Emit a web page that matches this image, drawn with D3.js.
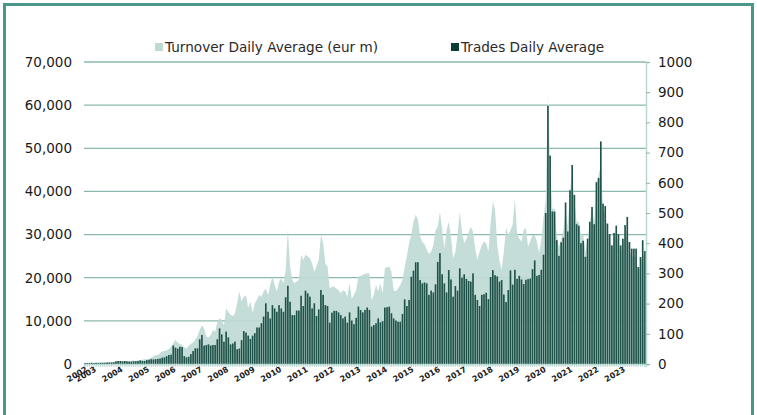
<!DOCTYPE html>
<html lang="en">
<head>
  <meta charset="UTF-8">
  <title>Turnover and trades</title>
  <script src="https://d3js.org/d3.v7.min.js"></script>
  <style>
    body { margin: 0; background: #fff; }
    text { font-family: "DejaVu Sans", Verdana, sans-serif; }
  </style>
</head>
<body>
  <script>
    // monthly data, Sep 2002 .. Nov 2023
    var turnover = [
      300, 300, 300, 300,
      300, 300, 350, 350, 350, 400, 400, 400, 450, 450, 500, 700,
      700, 700, 650, 700, 700, 750, 800, 780, 800, 850, 1000, 1100,
      1100, 1200, 1500, 1800, 2000, 2100, 2500, 2900, 3000, 3200, 3500, 4000,
      4800, 5600, 4900, 4700, 4400, 3900, 3600, 4200, 4700, 5000, 5700, 6500,
      7900, 9000, 8300, 6300, 6200, 6700, 7900, 7500, 9800, 10600, 10200, 9000,
      12900, 12100, 11400, 11100, 11700, 14100, 16800, 14500, 15600, 15900, 13000, 14500,
      11800, 14000, 15000, 16000, 15600, 16800, 17500, 16000, 18300, 20300, 18300, 16800,
      19100, 19900, 18700, 21800, 31100, 22600, 19500, 18700, 19100, 19500, 25300, 24100,
      25300, 24900, 24500, 23300, 21400, 22600, 24100, 29900, 28000, 23300, 22600, 17500,
      17900, 17900, 17500, 17100, 16400, 17100, 16800, 15600, 18700, 15200, 16000, 17100,
      20300, 20400, 20700, 20900, 21000, 21000, 14800, 16000, 18300, 16800, 18700, 16400,
      22200, 22400, 22600, 21400, 17100, 16800, 17500, 18300, 19500, 22500, 25000, 28000,
      30000, 33000, 34600, 33500, 29500, 28300, 27800, 26500, 25500, 26000, 27500, 31000,
      31800, 35300, 31300, 26800, 31000, 33000, 29500, 24500, 26000, 30000, 35300, 30700,
      28000, 29000, 30500, 31800, 30700, 26800, 24100, 26100, 27500, 28400, 28000, 26100,
      32600, 37600, 35700, 27600, 24000, 21800, 26100, 31500, 30000, 31000, 32300, 38400,
      30300, 29100, 28400, 31100, 31500, 27200, 28500, 29900, 29900, 28400, 25700, 28900,
      34000, 38000, 64000, 46000, 36000, 36000, 30000, 27000, 29000, 31000, 36000, 32000,
      40000, 44000, 38000, 33000, 33000, 30000, 30000, 26000, 29000, 33000, 36000, 33000,
      42000, 44000, 46000, 36000, 35000, 31000, 29000, 26000, 29000, 30000, 28000, 26000,
      27000, 30000, 31000, 26000, 25000, 25000, 25000, 21000, 23000, 26000, 24000
    ];

    var trades = [
      3, 3, 3, 4,
      3, 4, 3, 4, 4, 4, 5, 5, 5, 6, 9, 10,
      10, 9, 10, 9, 8, 8, 9, 9, 10, 12, 10, 10,
      13, 14, 16, 15, 16, 17, 18, 21, 22, 26, 30, 31,
      61, 54, 51, 57, 56, 26, 22, 24, 33, 43, 52, 52,
      82, 96, 61, 63, 65, 61, 63, 63, 82, 118, 98, 74,
      107, 88, 65, 68, 74, 49, 51, 79, 109, 104, 94, 83,
      94, 102, 121, 121, 135, 157, 201, 173, 151, 195, 184, 173,
      195, 184, 173, 221, 259, 206, 162, 162, 177, 177, 226, 192,
      243, 234, 223, 184, 201, 159, 181, 245, 229, 195, 192, 137,
      170, 176, 176, 171, 162, 151, 157, 137, 171, 144, 132, 153,
      190, 179, 171, 179, 187, 179, 124, 129, 135, 151, 138, 142,
      187, 188, 190, 168, 151, 144, 140, 140, 166, 214, 192, 212,
      289, 309, 337, 337, 278, 267, 270, 267, 229, 243, 237, 264,
      338, 367, 297, 267, 237, 311, 280, 223, 258, 243, 317, 286,
      297, 282, 275, 273, 300, 229, 212, 192, 229, 231, 236, 215,
      288, 311, 294, 290, 273, 278, 230, 205, 245, 310, 263, 312,
      282, 292, 280, 265, 279, 281, 283, 314, 343, 292, 295, 312,
      362, 500, 855, 690, 505, 505, 410, 358, 403, 418, 535, 439,
      575, 659, 560, 463, 458, 400, 408, 355, 415, 471, 520, 463,
      602, 616, 737, 531, 523, 465, 430, 393, 434, 458, 430, 393,
      415, 460, 487, 404, 382, 382, 382, 321, 354, 410, 374
    ];

    var months = d3.timeMonth.range(new Date(2002, 8, 1), new Date(2023, 11, 1));
    var leftTicks = [0, 10000, 20000, 30000, 40000, 50000, 60000, 70000];
    var rightTicks = [0, 100, 200, 300, 400, 500, 600, 700, 800, 900, 1000];
    var seriesNames = ["Turnover Daily Average (eur m)", "Trades Daily Average"];

    var width = 757, height = 415;
    var plotLeft = 84, plotRight = 646, plotTop = 62, plotBottom = 364;

    var svg = d3.select("body").append("svg")
      .attr("width", width)
      .attr("height", height);

    // outer frame
    svg.append("path")
      .attr("d", "M4.5," + (height + 5) + "V4.5H752.5V" + (height + 5))
      .attr("fill", "none")
      .attr("stroke", "#4a968a")
      .attr("stroke-width", 3);

    var x = d3.scaleBand()
      .domain(d3.range(months.length))
      .range([plotLeft, plotRight])
      .paddingInner(0.25)
      .paddingOuter(0.12);

    var yL = d3.scaleLinear().domain([0, 70000]).range([plotBottom, plotTop]);
    var yR = d3.scaleLinear().domain([0, 1000]).range([plotBottom, plotTop]);

    // gridlines
    svg.append("g")
      .selectAll("line")
      .data(leftTicks.slice(1))
      .join("line")
      .attr("x1", plotLeft)
      .attr("x2", plotRight)
      .attr("y1", d => yL(d))
      .attr("y2", d => yL(d))
      .attr("stroke", "#8cb9af")
      .attr("stroke-width", 1.3);

    // turnover area with fading top
    var grad = svg.append("defs").append("linearGradient")
      .attr("id", "fade")
      .attr("gradientUnits", "userSpaceOnUse")
      .attr("x1", 0).attr("x2", 0)
      .attr("y1", yL(0)).attr("y2", yL(66000));
    grad.append("stop").attr("offset", "0").attr("stop-color", "#bfdad5");
    grad.append("stop").attr("offset", "0.78").attr("stop-color", "#bfdad5");
    grad.append("stop").attr("offset", "1").attr("stop-color", "#ffffff");

    var cx = i => x(i) + x.bandwidth() / 2;
    var area = d3.area()
      .x((d, i) => cx(i))
      .y0(yL(0))
      .y1(d => yL(d));

    svg.append("path")
      .datum(turnover)
      .attr("d", area)
      .attr("fill", "url(#fade)")
      .attr("fill-opacity", 0.92);

    // trades bars
    svg.append("g")
      .selectAll("rect")
      .data(trades)
      .join("rect")
      .attr("x", (d, i) => x(i))
      .attr("width", x.bandwidth())
      .attr("y", d => yR(d))
      .attr("height", d => yR(0) - yR(d))
      .attr("fill", "#1f5349");

    // category axis (light line with small ticks)
    var xAxis = svg.append("g")
      .attr("transform", "translate(0," + plotBottom + ")")
      .call(d3.axisBottom(x).tickSize(3).tickFormat(""));
    xAxis.select(".domain").attr("stroke", "#b9d8d2").attr("stroke-width", 1.5);
    xAxis.selectAll(".tick line").attr("stroke", "#b9d8d2");

    // year labels at first month of each year
    var yearStarts = months.map((m, i) => ({ m: m, i: i }))
      .filter(d => d.i === 0 || d.m.getMonth() === 0);
    svg.append("g")
      .selectAll("text")
      .data(yearStarts)
      .join("text")
      .attr("transform", d => "translate(" + (cx(d.i) + 3) + "," + 371 + ") rotate(-30)")
      .attr("text-anchor", "end")
      .attr("font-size", 8)
      .attr("font-weight", "bold")
      .attr("fill", "#222")
      .text(d => d.m.getFullYear());

    // left axis labels
    var axL = svg.append("g")
      .attr("transform", "translate(" + plotLeft + ",0)")
      .call(d3.axisLeft(yL).tickValues(leftTicks).tickSize(0).tickPadding(12)
        .tickFormat(d3.format(",")));
    axL.select(".domain").remove();
    axL.selectAll("text")
      .attr("font-size", 13.5)
      .attr("fill", "#1a1a1a")
      .style("font-family", "'DejaVu Sans', sans-serif");

    // right axis
    var axR = svg.append("g")
      .attr("transform", "translate(" + plotRight + ",0)")
      .call(d3.axisRight(yR).tickValues(rightTicks).tickSize(4).tickPadding(8)
        .tickFormat(d3.format("d")));
    axR.select(".domain").attr("stroke", "#b9d8d2").attr("stroke-width", 1.5);
    axR.selectAll(".tick line").attr("stroke", "#8cb9af");
    axR.selectAll("text")
      .attr("font-size", 13.5)
      .attr("fill", "#1a1a1a")
      .style("font-family", "'DejaVu Sans', sans-serif");

    // legend
    var legend = svg.append("g").attr("font-size", 13.6);
    var legendX = [155, 451];
    var legendColors = ["#bfdad5", "#0d3d35"];
    seriesNames.forEach(function (name, k) {
      legend.append("rect")
        .attr("x", legendX[k])
        .attr("y", 43)
        .attr("width", 8)
        .attr("height", 8)
        .attr("fill", legendColors[k]);
      legend.append("text")
        .attr("x", legendX[k] + 10)
        .attr("y", 52)
        .attr("fill", "#2a2a2a")
        .text(name);
    });
  </script>
</body>
</html>
